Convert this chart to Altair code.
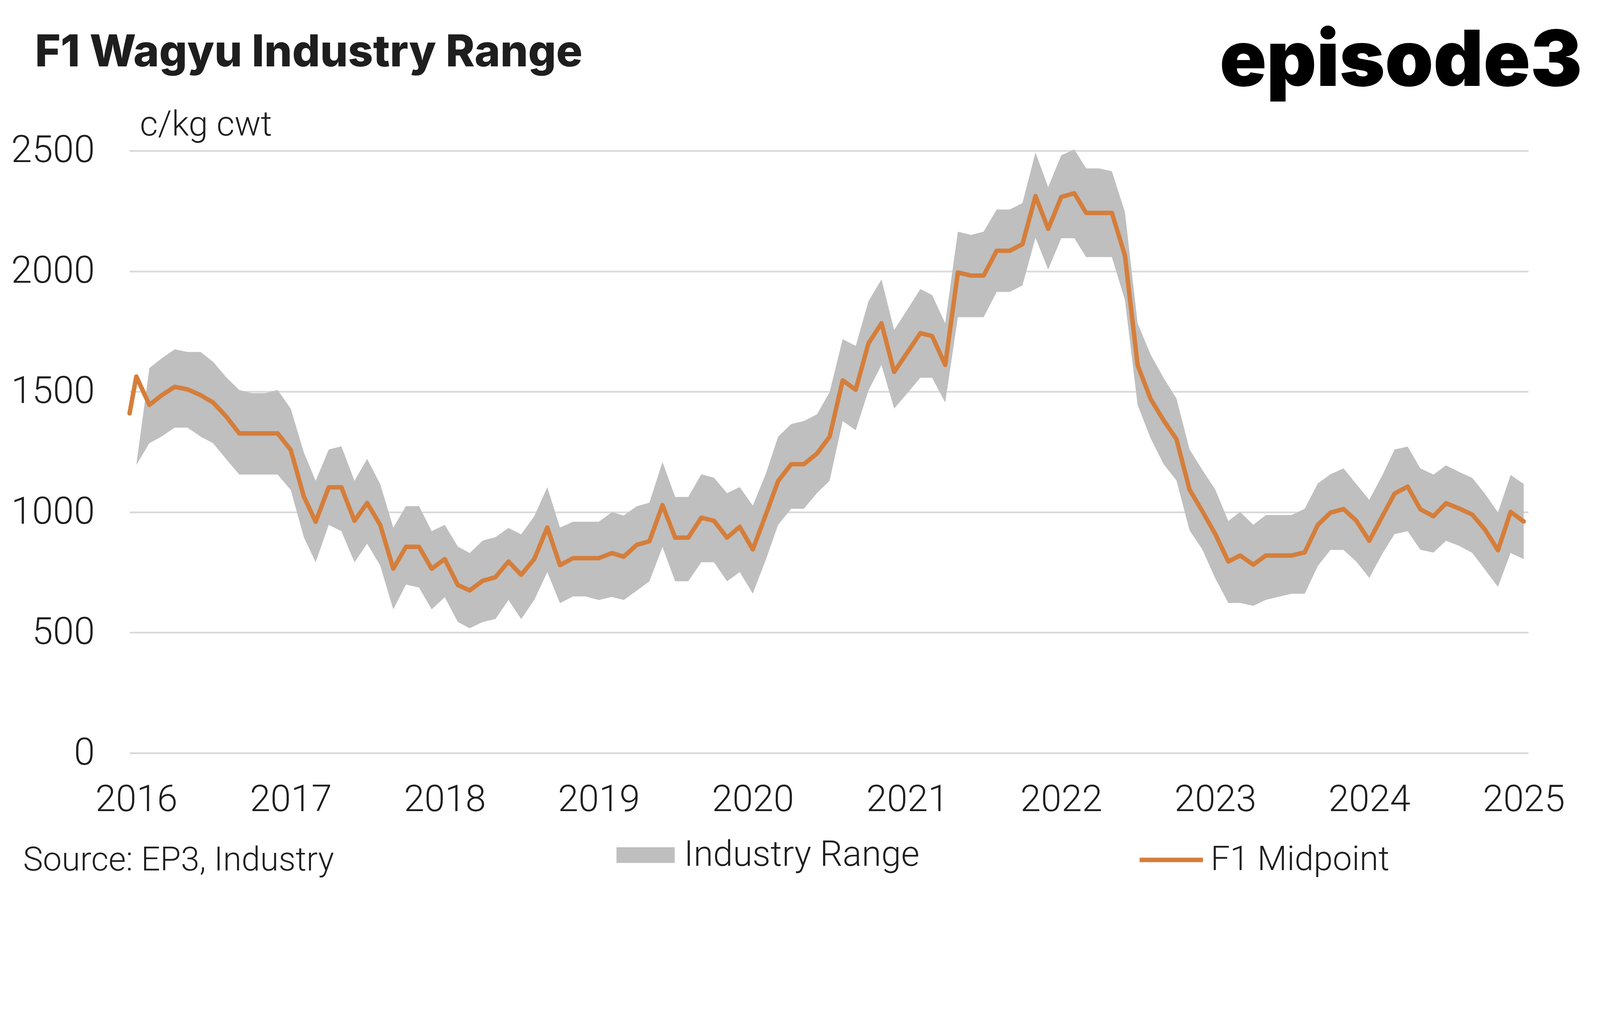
import altair as alt
import pandas as pd

# ---------------- data ----------------
month_starts = pd.date_range("2016-01-01", periods=109, freq="MS")
dates = ["2015-12-16T00:00:00"] + [d.strftime("%Y-%m-%dT00:00:00") for d in month_starts]

mid = [1410,
       1563, 1445, 1485, 1520, 1510, 1486, 1455, 1397, 1327, 1327, 1327, 1327,
       1258, 1065, 960, 1103, 1103, 964, 1038, 947, 765, 856, 856, 765,
       805, 697, 675, 715, 730, 795, 740, 805, 936, 780, 809, 809,
       809, 830, 815, 864, 879, 1029, 894, 894, 977, 964, 894, 939,
       845, 990, 1129, 1199, 1199, 1243, 1313, 1547, 1508, 1700, 1784, 1582,
       1662, 1743, 1731, 1611, 1995, 1982, 1982, 2085, 2085, 2112, 2312, 2176,
       2308, 2324, 2242, 2242, 2242, 2065, 1610, 1469, 1380, 1303, 1094, 1005,
       909, 795, 820, 782, 820, 820, 820, 833, 947, 998, 1013, 965,
       881, 983, 1077, 1106, 1012, 983, 1037, 1015, 990, 928, 842, 1001,
       961]

high = [None,
        1196, 1598, 1638, 1676, 1665, 1665, 1624, 1560, 1507, 1494, 1494, 1507,
        1429, 1248, 1130, 1260, 1273, 1130, 1221, 1116, 936, 1025, 1025, 921,
        947, 857, 830, 882, 896, 934, 908, 983, 1103, 936, 960, 960,
        960, 1000, 986, 1024, 1039, 1208, 1063, 1063, 1157, 1143, 1079, 1104,
        1027, 1160, 1313, 1366, 1378, 1406, 1498, 1718, 1690, 1875, 1966, 1756,
        1840, 1926, 1901, 1784, 2164, 2151, 2164, 2256, 2256, 2283, 2493, 2349,
        2481, 2506, 2427, 2427, 2415, 2245, 1784, 1653, 1556, 1472, 1261, 1176,
        1094, 963, 1001, 947, 988, 988, 988, 1014, 1119, 1157, 1182, 1117,
        1051, 1153, 1260, 1272, 1182, 1156, 1194, 1167, 1142, 1077, 999, 1154,
        1117]

low = [None,
       1196, 1286, 1314, 1351, 1351, 1314, 1286, 1220, 1156, 1156, 1156, 1156,
       1092, 896, 792, 947, 921, 792, 869, 778, 596, 699, 687, 596,
       647, 544, 518, 544, 556, 635, 556, 635, 751, 622, 650, 650,
       635, 648, 635, 674, 713, 855, 713, 713, 792, 792, 713, 751,
       662, 803, 947, 1014, 1014, 1079, 1130, 1378, 1340, 1504, 1611, 1430,
       1493, 1558, 1558, 1455, 1809, 1809, 1809, 1914, 1914, 1941, 2139, 2007,
       2137, 2137, 2059, 2059, 2059, 1880, 1445, 1306, 1198, 1132, 925, 846,
       725, 623, 623, 611, 636, 649, 661, 661, 776, 843, 843, 795,
       727, 827, 909, 921, 844, 832, 881, 860, 831, 762, 690, 831,
       805]

year_ticks = list(range(2016, 2026))
y_ticks = [0, 500, 1000, 1500, 2000, 2500]

title_text = "F1 Wagyu Industry Range"
logo_text = "episode3"
unit_text = "c/kg cwt"
source_text = "Source: EP3, Industry"
range_name = "Industry Range"
mid_name = "F1 Midpoint"

df = pd.DataFrame({"date": dates, "low": low, "high": high, "mid": mid})
df["range_name"] = range_name
df["mid_name"] = mid_name

# ---------------- styling ----------------
LABEL_FONT = "Roboto"
TEXT = "#1e1e1e"
GRAY = "#BFBFBF"
ORANGE = "#D57E3B"
GRID = "#D9D9D9"

x_scale = alt.Scale(domain=[alt.DateTime(year=2015, month=12, date=16),
                            alt.DateTime(year=2025, month=1, date=12)])
y_scale = alt.Scale(domain=[0, 2500], nice=False)

x_axis = alt.Axis(values=[alt.DateTime(year=y, month=1, date=1) for y in year_ticks],
                  format="%Y", title=None, grid=False, domain=False, ticks=False,
                  labelFont=LABEL_FONT, labelFontWeight=300, labelFontSize=108,
                  labelColor=TEXT, labelBaseline="alphabetic", labelPadding=169,
                  labelFlush=False, labelOverlap=False, labelLimit=0)
y_axis = alt.Axis(values=y_ticks, format="d", title=None, domain=False, ticks=False,
                  grid=True, gridColor=GRID, gridWidth=5,
                  labelFont=LABEL_FONT, labelFontWeight=300, labelFontSize=110,
                  labelColor=TEXT, labelPadding=102, labelOverlap=False, labelLimit=0)

area = alt.Chart(df).mark_area(interpolate="linear", opacity=1).encode(
    x=alt.X("date:T", scale=x_scale, axis=x_axis),
    y=alt.Y("low:Q", scale=y_scale, axis=y_axis),
    y2="high:Q",
    fill=alt.Fill("range_name:N",
                  scale=alt.Scale(domain=[range_name], range=[GRAY]),
                  legend=alt.Legend(title=None, orient="none", legendX=1421, legendY=1971,
                                    symbolType="M-1,-0.27H1V0.27H-1Z", symbolSize=28900,
                                    symbolStrokeWidth=0, padding=0, labelLimit=0,
                                    labelFont=LABEL_FONT, labelFontWeight=300,
                                    labelFontSize=104, labelColor=TEXT, labelOffset=27)),
)

line = alt.Chart(df).mark_line(strokeWidth=13, strokeCap="round", strokeJoin="round").encode(
    x=alt.X("date:T", scale=x_scale, axis=x_axis),
    y=alt.Y("mid:Q", scale=y_scale, axis=y_axis),
    stroke=alt.Stroke("mid_name:N",
                      scale=alt.Scale(domain=[mid_name], range=[ORANGE]),
                      legend=alt.Legend(title=None, orient="none", legendX=2941, legendY=1971,
                                        symbolType="stroke", symbolSize=34225,
                                        symbolStrokeWidth=13, padding=0, labelLimit=0,
                                        labelFont=LABEL_FONT, labelFontWeight=300,
                                        labelFontSize=100, labelColor=TEXT, labelOffset=16)),
)


def label(text, x, y, size, weight, align="left", font="Inter", color=TEXT):
    return alt.Chart(pd.DataFrame({"t": [text]})).mark_text(
        align=align, baseline="alphabetic", font=font, fontSize=size,
        fontWeight=weight, color=color
    ).encode(x=alt.value(x), y=alt.value(y), text="t:N")


title = label(title_text, -276, -246, 128, 800)
logo = label(logo_text, 4239, -189, 226, 900, align="right", color="#000000")
unit = label(unit_text, 30, -44, 102, 300, font=LABEL_FONT)
source = label(source_text, -311, 2101, 98, 300, font=LABEL_FONT)

chart = alt.layer(area, line, title, logo, unit, source).properties(
    width=4082, height=1758,
    padding={"left": 369, "top": 263, "right": 200, "bottom": 380},
    autosize=alt.AutoSizeParams(type="none"),
    background="white",
).configure_view(stroke=None)

chart.save("out.html", embed_options={"renderer": "svg", "actions": False})
